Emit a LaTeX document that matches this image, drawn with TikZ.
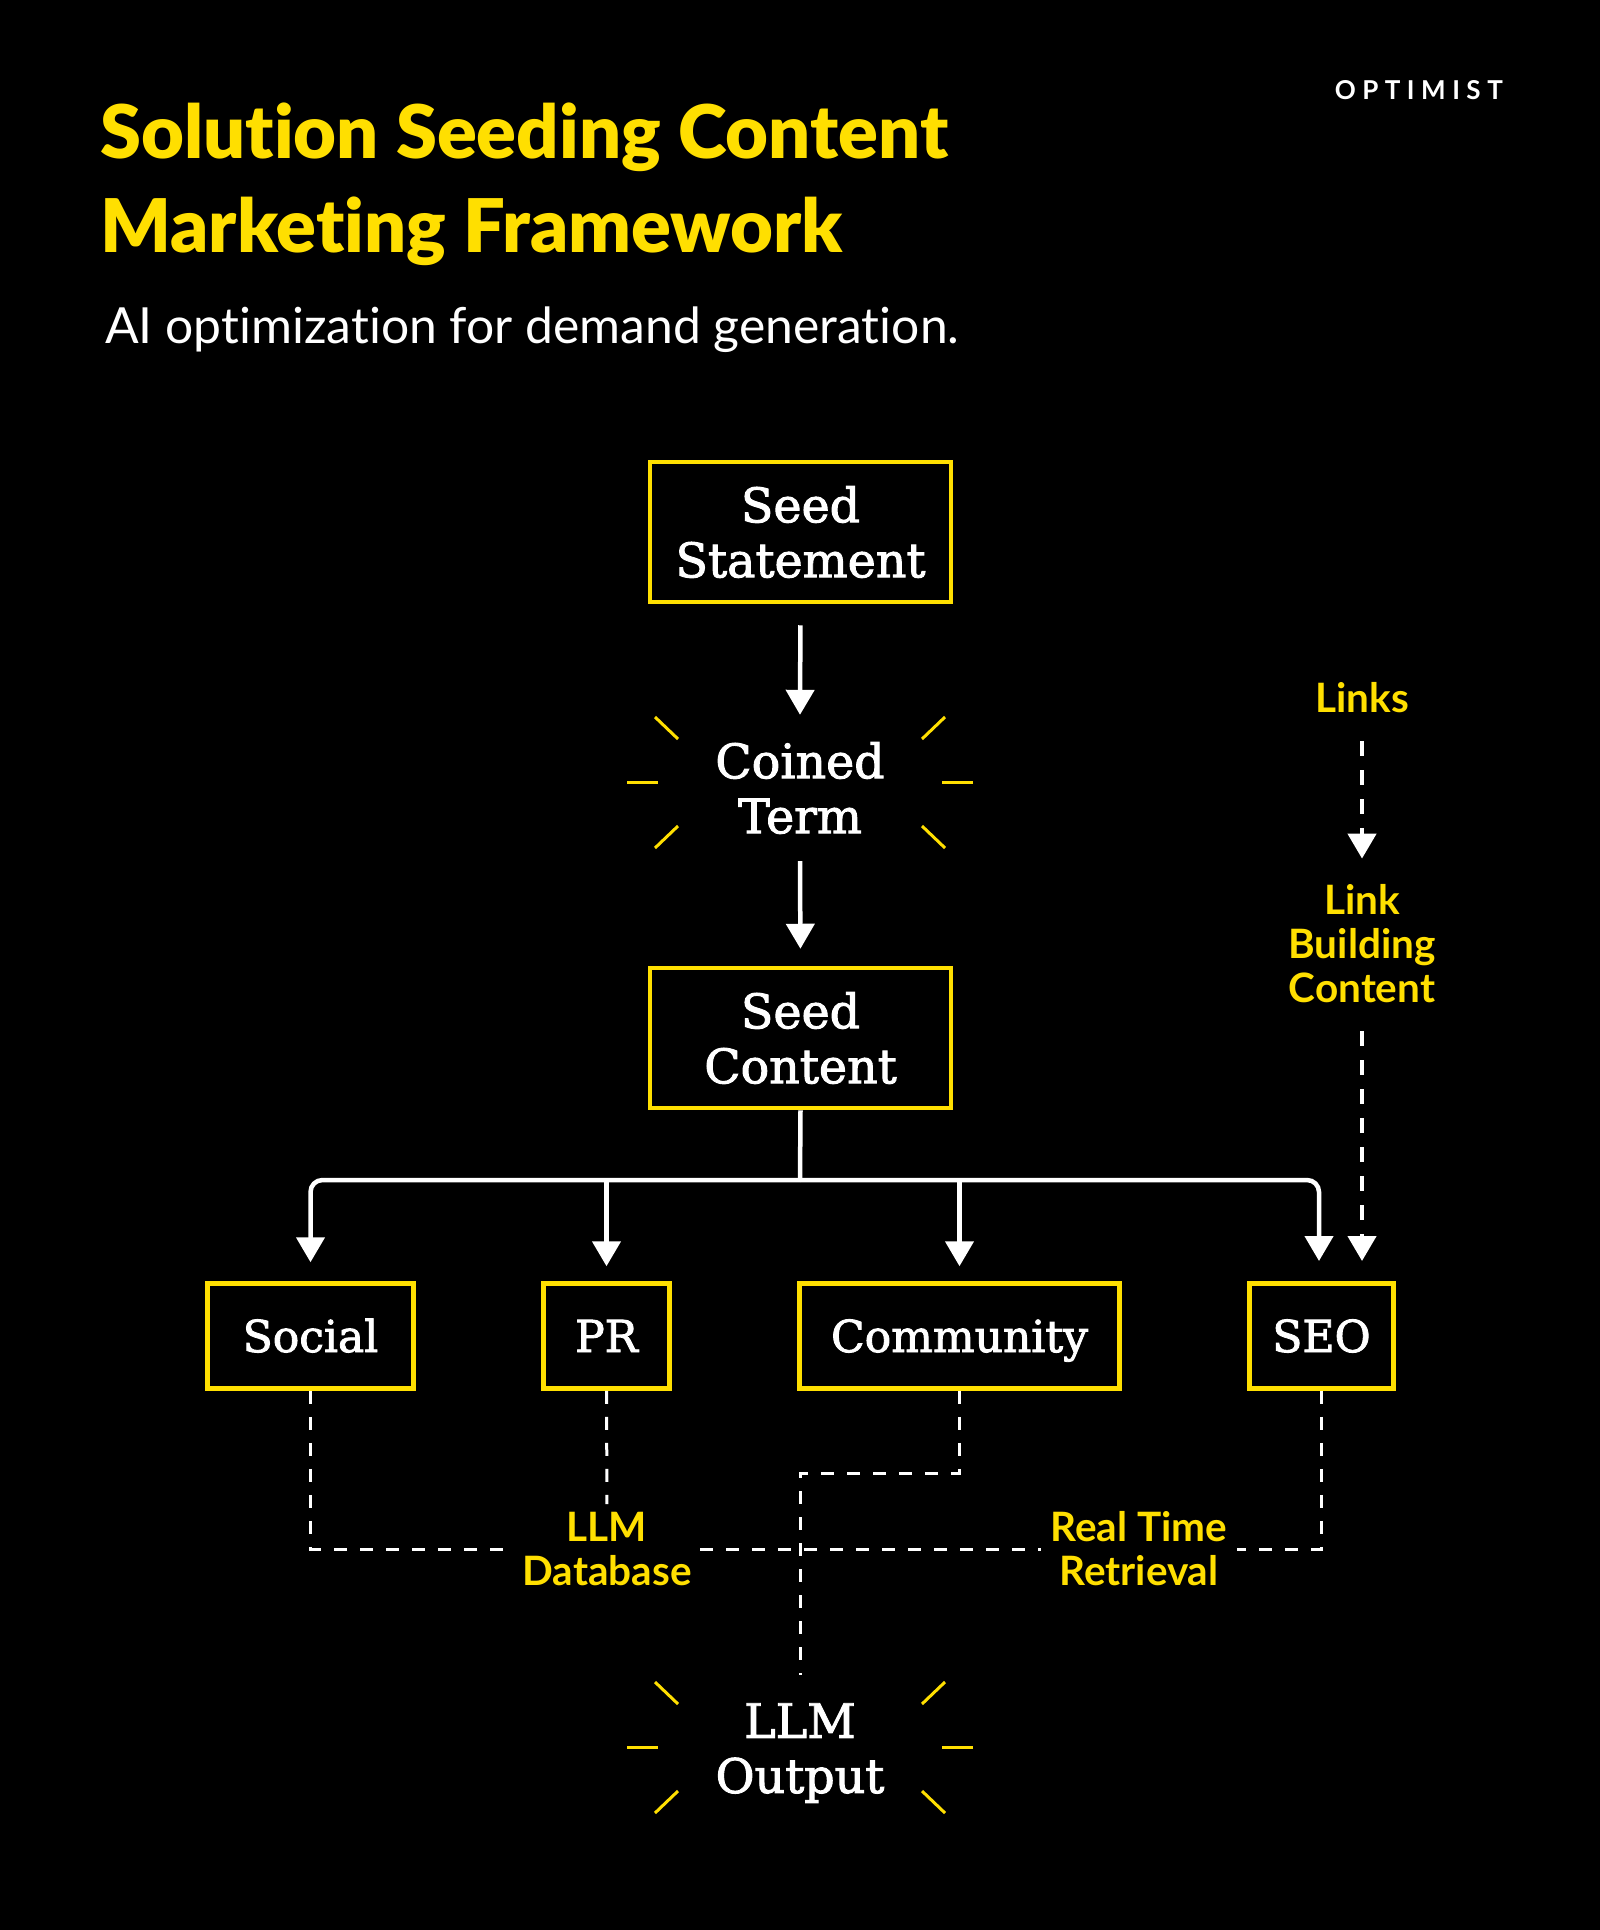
\documentclass[tikz,border=0pt]{standalone}
\usepackage{fontspec}
\usepackage[dvipsnames]{xcolor}
\usetikzlibrary{arrows.meta}
\usetikzlibrary{positioning}
\setmainfont{Lato}[Ligatures=NoCommon]
\newfontfamily\titlefont{Lato Black}[Ligatures=NoCommon]
\newfontfamily\boxfont{DejaVu Serif}[FakeBold=2.0]
\definecolor{brandyellow}{rgb}{1.0, 0.875, 0.0}
\tikzset{
  flow/.style={white, line width=4.5pt, -{Triangle[length=25pt, width=28pt]}},
  flowplain/.style={white, line width=4.5pt},
  linkflow/.style={white, line width=4.5pt, dash pattern=on 15pt off 14pt, -{Triangle[length=25pt, width=28pt]}},
  dashline/.style={white, line width=3pt, dash pattern=on 13pt off 13pt},
  ray/.style={brandyellow, line width=3pt},
  boxtext/.style={white, font=\boxfont\fontsize{47.5}{55}\selectfont, align=center, inner sep=0pt},
  yellowbox/.style={boxtext, draw=brandyellow, line width=4.5pt},
  channelbox/.style={yellowbox, font=\boxfont\fontsize{44}{55}\selectfont, text height=36pt, text depth=4pt, minimum height=105pt},
  sidelabel/.style={brandyellow, font=\bfseries\fontsize{40.5}{44}\selectfont, align=center, inner sep=0pt},
}
\begin{document}
\begin{tikzpicture}[line cap=butt, line join=miter, x=1pt, y=-1pt]
\fill[black] (0,0) rectangle (1600,1930);
\useasboundingbox (0,0) rectangle (1600,1930);
% heading
\node (title) [anchor=base west, inner sep=0pt, align=left, brandyellow, font=\titlefont\fontsize{74}{94}\selectfont] at (100,252) {Solution Seeding Content\\Marketing Framework};
\node (subtitle) [anchor=base west, inner sep=0pt, white, font=\fontsize{49.8}{60}\selectfont] at (105,343) {AI optimization for demand generation.};
\node (brand) [anchor=base east, inner sep=0pt, white, font=\fontsize{26}{30}\selectfont\bfseries\addfontfeatures{LetterSpace=25}] at (1503,99) {OPTIMIST};
% main column
\node (seedstatement) [yellowbox, minimum width=301pt, minimum height=140pt] at (800.5,532) {Seed\\Statement};
\node (coined) [boxtext, minimum height=146pt] at (800,788) {Coined\\Term};
\node (seedcontent) [yellowbox, minimum width=301pt, minimum height=140pt] at (800.5,1038) {Seed\\Content};
% channels
\node (social) [channelbox, minimum width=206pt] at (310.5,1336) {Social};
\node (pr) [channelbox, minimum width=126pt] at (606.5,1336) {PR};
\node (community) [channelbox, minimum width=320pt] at (959.5,1336) {Community};
\node (seo) [channelbox, minimum width=144pt] at (1321.5,1336) {SEO};
\node (llmout) [boxtext, minimum height=156pt] at (800,1753) {LLM\\Output};
% side labels
\node (links) [sidelabel] at (1362,698) {Links};
\node (linkcontent) [sidelabel] at (1362,944) {Link\\Building\\Content};
\node (llmdb) [sidelabel, minimum width=186pt] at (607,1549) {LLM\\Database};
\node (realtime) [sidelabel, minimum width=196pt] at (1139,1549) {Real Time\\Retrieval};
\coordinate (trunk) at (800,1180);
\coordinate (seoin) at (1319,1281);
\coordinate (linkin) at (1362,1281);
\coordinate (bend) at (800,1473);
\coordinate (coinedrays) at (800,782);
\coordinate (llmrays) at (800,1747);
% arrows
\draw [flow, shorten <=21pt] (seedstatement.south) -- (coined.north);
\draw [flow, shorten >=17pt] (coined.south) -- (seedcontent.north);
\draw [flowplain] (seedcontent.south) -- (trunk);
\draw [flow, rounded corners=12pt, shorten >=19pt] (trunk) -| (social.north);
\draw [flow, rounded corners=12pt, shorten >=20pt] (trunk) -| (seoin);
\draw [flow, shorten >=15pt] (pr.north |- trunk) -- (pr.north);
\draw [flow, shorten >=15pt] (community.north |- trunk) -- (community.north);
\draw [linkflow, shorten <=28pt, shorten >=26pt] (links.south) -- (linkcontent.north);
\draw [linkflow, shorten <=28pt, shorten >=20pt] (linkcontent.south) -- (linkin);
% dashed routes
\draw [dashline] (social.south) |- (llmdb.west);
\draw [dashline, shorten >=8pt] (pr.south) -- (llmdb.north);
\draw [dashline] (llmdb.east) -- (realtime.west);
\draw [dashline] (seo.south) |- (realtime.east);
\draw [dashline] (community.south) |- (bend) -- (llmout.north);
% bursts
\foreach \c in {coinedrays,llmrays}
  \foreach \xa/\ya/\xb/\yb in {-145/-65/-122/-43,145/-65/122/-43,-173/0/-142/0,173/0/142/0,-122/44/-145/66,122/44/145/66}
    \draw [ray] ([shift={(\xa,\ya)}]\c) -- ([shift={(\xb,\yb)}]\c);
\end{tikzpicture}
\end{document}
